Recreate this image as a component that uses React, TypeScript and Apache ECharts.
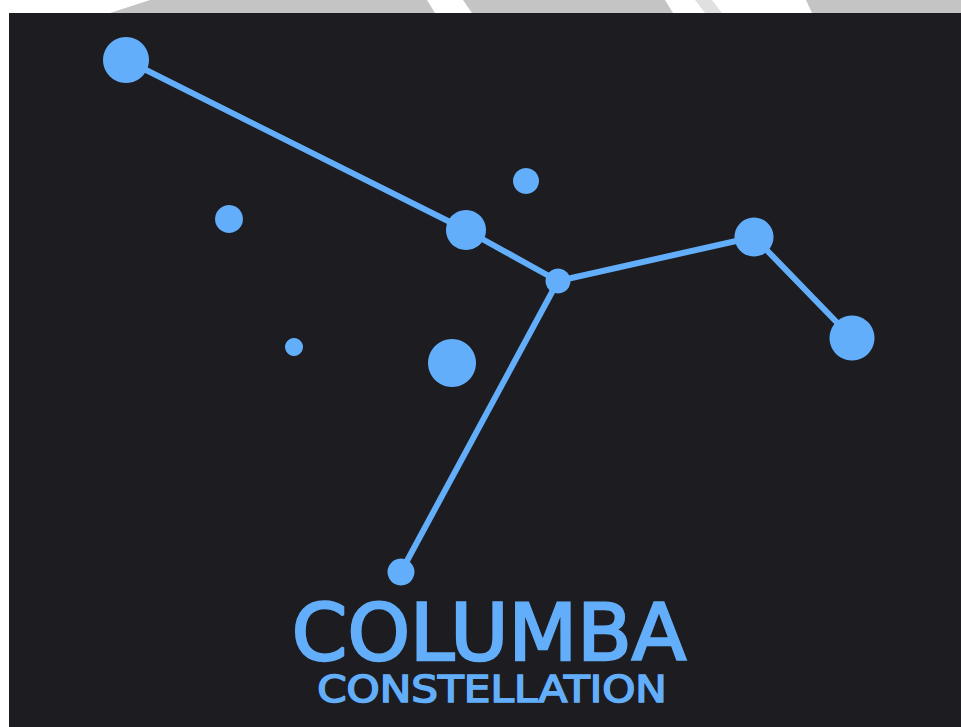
import React, { useEffect, useRef } from "react";
import * as echarts from "echarts";

const starNames = ["s1", "s2", "s3", "s4", "s5", "s6", "s7", "s8", "s9", "s10"];
const starX = [126, 466, 558, 526, 754, 852, 401, 229, 294, 452];
const starY = [60, 230, 281, 181, 237, 338, 572, 219, 347, 363];
const starSize = [46, 40, 25, 26, 39, 45, 27, 28, 18, 48];
const pathMain = [0, 1, 2, 4, 5];
const pathTail = [2, 6];
const titleText = "COLUMBA";
const subtitleText = "CONSTELLATION";

const BLUE = "#63aefa";
const BG = "#1d1c21";
const GRAY = "#c4c4c4";

export default function App() {
  const ref = useRef<HTMLDivElement>(null);
  useEffect(() => {
    if (!ref.current) return;
    const chart = echarts.init(ref.current, undefined, { renderer: "svg" });
    const lineData = (idx: number[]) => idx.map((i) => [starX[i], starY[i]]);
    chart.setOption({
      animation: false,
      backgroundColor: "#ffffff",
      grid: { left: 0, right: 0, top: 0, bottom: 0 },
      xAxis: { type: "value", min: 0, max: 961, show: false },
      yAxis: { type: "value", min: 0, max: 727, inverse: true, show: false },
      graphic: [
        { type: "polygon", z: -10, shape: { points: [[150, 0], [427, 0], [435, 13], [110, 13]] }, style: { fill: GRAY } },
        { type: "polygon", z: -10, shape: { points: [[463, 0], [665, 0], [673, 13], [472, 13]] }, style: { fill: GRAY } },
        { type: "polygon", z: -10, shape: { points: [[806, 0], [961, 0], [961, 13], [812, 13]] }, style: { fill: GRAY } },
        { type: "polygon", z: -10, shape: { points: [[695, 0], [712, 0], [722, 13], [705, 13]] }, style: { fill: "#e0e0e0" } },
        { type: "rect", z: -5, shape: { x: 9, y: 13, width: 952, height: 714 }, style: { fill: BG } },
        {
          type: "text", z: 10, x: 489, y: 633, scaleX: 1.02,
          style: {
            text: titleText, fill: BLUE, stroke: BLUE, lineWidth: 2.5,
            font: "78px 'DejaVu Sans'", textAlign: "center", textVerticalAlign: "middle",
          },
        },
        {
          type: "text", z: 10, x: 492, y: 689, scaleX: 1.11,
          style: {
            text: subtitleText, fill: BLUE, stroke: BLUE, lineWidth: 1.6,
            font: "38px 'DejaVu Sans'", textAlign: "center", textVerticalAlign: "middle",
          },
        },
      ],
      series: [
        {
          type: "line", data: lineData(pathMain), showSymbol: false, silent: true,
          lineStyle: { color: BLUE, width: 6 }, z: 2,
        },
        {
          type: "line", data: lineData(pathTail), showSymbol: false, silent: true,
          lineStyle: { color: BLUE, width: 6 }, z: 2,
        },
        {
          type: "scatter", z: 3,
          data: starNames.map((n, i) => ({ name: n, value: [starX[i], starY[i]], symbolSize: starSize[i] })),
          itemStyle: { color: BLUE, opacity: 1 },
        },
      ],
    });
    return () => chart.dispose();
  }, []);
  return <div ref={ref} style={{ position: "absolute", left: 0, top: 0, width: 961, height: 727 }} />;
}
